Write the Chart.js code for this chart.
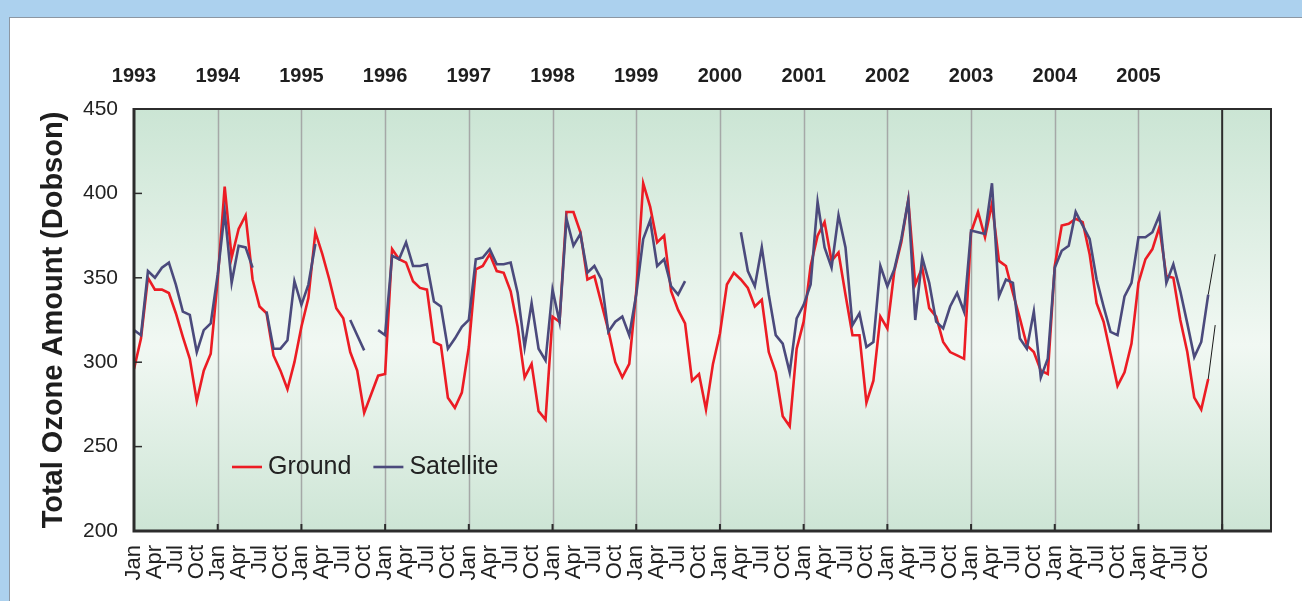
<!DOCTYPE html>
<html>
<head>
<meta charset="utf-8">
<script src="https://cdn.jsdelivr.net/npm/chart.js@4.4.1/dist/chart.umd.min.js"></script>
<style>
  html, body { margin: 0; padding: 0; width: 1302px; height: 601px; overflow: hidden; background: #acd1ee; }
  #panel { position: absolute; left: 9px; top: 17px; right: 0; bottom: 0; background: #ffffff;
           border-left: 1px solid #8c97a3; border-top: 1px solid #8c97a3; }
  #c { position: absolute; left: 0; top: 0; }
</style>
</head>
<body>
<div id="panel"></div>
<canvas id="c" width="1302" height="601"></canvas>
<script>
// Year labels along the top, one per January
const years = ['1993','1994','1995','1996','1997','1998','1999','2000','2001','2002','2003','2004','2005'];
// Quarterly month labels along the bottom
const monthTickLabels = ['Jan','Apr','Jul','Oct'];
const yTickValues = [200, 250, 300, 350, 400, 450];

// Monthly total ozone (Dobson units), Jan 1993 .. Dec 2005
const ground = [
  296, 314, 350, 343, 343, 341, 329, 315, 302, 277, 295, 305,   // 1993
  349, 404, 362, 379, 387, 349, 333, 329, 304, 295, 284, 300,   // 1994
  321, 338, 377, 364, 349, 332, 326, 306, 295, 270, 281, 292,   // 1995
  293, 367, 361, 359, 348, 344, 343, 312, 310, 279, 273, 282,   // 1996
  309, 355, 357, 364, 354, 353, 342, 321, 291, 299, 271, 266,   // 1997
  327, 324, 389, 389, 377, 349, 351, 335, 319, 300, 291, 299,   // 1998
  342, 406, 392, 371, 375, 342, 331, 323, 289, 293, 272, 299,   // 1999
  317, 346, 353, 349, 344, 333, 337, 306, 294, 268, 262, 308,   // 2000
  324, 357, 375, 383, 360, 365, 340, 316, 316, 276, 289, 327,   // 2001
  320, 354, 371, 396, 346, 356, 332, 327, 312, 306, 304, 302,   // 2002
  377, 389, 374, 394, 360, 357, 341, 326, 310, 306, 295, 293,   // 2003
  357, 381, 382, 385, 383, 364, 335, 324, 305, 286, 294, 311,   // 2004
  347, 361, 367, 380, 351, 350, 325, 306, 279, 272, 290, null   // 2005
];
const satellite = [
  319, 316, 354, 350, 356, 359, 346, 330, 328, 306, 319, 323,   // 1993
  352, 389, 347, 369, 368, 356, null, 330, 308, 308, 313, 348,  // 1994
  334, 346, 370, null, null, null, null, 325, 316, 307, null, 319, // 1995
  316, 363, 361, 371, 357, 357, 358, 336, 333, 308, 314, 321,   // 1996
  325, 361, 362, 367, 358, 358, 359, 341, 309, 335, 308, 301,   // 1997
  343, 324, 385, 369, 376, 353, 357, 349, 318, 324, 327, 316,   // 1998
  340, 373, 384, 357, 361, 345, 340, 348, null, null, null, null, // 1999
  null, null, null, 377, 354, 345, 368, 340, 316, 311, 294, 326, // 2000
  334, 346, 395, 368, 356, 387, 368, 322, 329, 309, 312, 357,   // 2001
  345, 355, 373, 396, 325, 362, 347, 324, 320, 333, 341, 330,   // 2002
  378, 377, 376, 406, 339, 349, 347, 314, 308, 330, 291, 302,   // 2003
  356, 366, 369, 389, 381, 373, 349, 333, 318, 316, 339, 347,   // 2004
  374, 374, 377, 387, 347, 358, 342, 323, 303, 312, 340, null   // 2005
];
// Thin provisional segments, Nov -> Dec 2005
const tailMonths = [154, 155];
const groundTail = [290, 322];
const satelliteTail = [340, 364];

const FONT = '"Liberation Sans", Arial, Helvetica, sans-serif';
const X_MAX = 163;                 // months shown on the axis (incl. blank 2006 panel)
const YEAR_END = years.length * 12; // 156

const toPoints = (arr, start = 0) => arr.map((v, i) => ({ x: start + i, y: v }));
const tailPoints = vals => vals.map((v, i) => ({ x: tailMonths[i], y: v }));

const quarterTicks = [];
for (let m = 0; m < YEAR_END; m += 3) quarterTicks.push(m);
const yearTicks = years.map((_, i) => i * 12);

// Soft vertical green gradient behind the plot
const plotBackground = {
  id: 'plotBackground',
  beforeDraw(chart) {
    const { ctx, chartArea: a } = chart;
    const g = ctx.createLinearGradient(0, a.top, 0, a.bottom);
    g.addColorStop(0, '#cbe5d4');
    g.addColorStop(0.56, '#f1f8f3');
    g.addColorStop(1, '#cde5d5');
    ctx.save();
    ctx.fillStyle = g;
    ctx.fillRect(a.left, a.top, a.right - a.left, a.bottom - a.top);
    ctx.restore();
  }
};

// Year separators under the data lines
const yearGrid = {
  id: 'yearGrid',
  beforeDatasetsDraw(chart) {
    const { ctx, chartArea: a, scales: { x } } = chart;
    ctx.save();
    ctx.strokeStyle = '#a5a8a7';
    ctx.lineWidth = 1.5;
    for (let m = 12; m < YEAR_END; m += 12) {
      const px = Math.round(x.getPixelForValue(m)) + 0.5;
      ctx.beginPath(); ctx.moveTo(px, a.top); ctx.lineTo(px, a.bottom); ctx.stroke();
    }
    ctx.restore();
  }
};

// Axis frame, panel divider and inward tick marks
const frame = {
  id: 'frame',
  afterDatasetsDraw(chart) {
    const { ctx, chartArea: a, scales: { x, y } } = chart;
    ctx.save();
    ctx.strokeStyle = '#2c2c2c';
    ctx.lineCap = 'butt';
    // divider before the blank panel
    const dx = x.getPixelForValue(YEAR_END);
    ctx.lineWidth = 2;
    ctx.beginPath(); ctx.moveTo(dx, a.top); ctx.lineTo(dx, a.bottom); ctx.stroke();
    // top and right edges
    ctx.beginPath(); ctx.moveTo(a.left, a.top); ctx.lineTo(a.right, a.top); ctx.lineTo(a.right, a.bottom); ctx.stroke();
    // left and bottom axes
    ctx.lineWidth = 3;
    ctx.beginPath(); ctx.moveTo(a.left, a.top - 1); ctx.lineTo(a.left, a.bottom); ctx.lineTo(a.right + 1, a.bottom); ctx.stroke();
    // y tick marks pointing inward
    ctx.lineWidth = 1.5;
    yTickValues.forEach(v => {
      if (v <= y.min || v >= y.max) return;
      const py = y.getPixelForValue(v);
      ctx.beginPath(); ctx.moveTo(a.left, py); ctx.lineTo(a.left + 8, py); ctx.stroke();
    });
    // year tick marks on the bottom axis
    ctx.lineWidth = 2;
    for (let m = 12; m <= YEAR_END; m += 12) {
      const px = x.getPixelForValue(m);
      ctx.beginPath(); ctx.moveTo(px, a.bottom); ctx.lineTo(px, a.bottom - 7); ctx.stroke();
    }
    ctx.restore();
  }
};

// Legend drawn inside the plot area
const innerLegend = {
  id: 'innerLegend',
  afterDraw(chart) {
    const { ctx, chartArea: a } = chart;
    const items = chart.data.datasets.filter(d => d.showInLegend);
    let px = a.left + 98;
    const py = a.bottom - 64;
    ctx.save();
    ctx.font = '25px ' + FONT;
    ctx.textBaseline = 'middle';
    ctx.fillStyle = '#222';
    items.forEach(d => {
      ctx.strokeStyle = d.borderColor;
      ctx.lineWidth = 2.6;
      ctx.beginPath(); ctx.moveTo(px, py); ctx.lineTo(px + 30, py); ctx.stroke();
      px += 36;
      ctx.fillText(d.label, px, py);
      px += ctx.measureText(d.label).width + 22;
    });
    ctx.restore();
  }
};

new Chart(document.getElementById('c'), {
  type: 'line',
  data: {
    datasets: [
      { label: 'Ground', data: toPoints(ground), borderColor: '#ec1c24', borderWidth: 2.6,
        pointRadius: 0, tension: 0, spanGaps: false, order: 1, showInLegend: true },
      { label: 'Satellite', data: toPoints(satellite), borderColor: '#4b4a7c', borderWidth: 2.6,
        pointRadius: 0, tension: 0, spanGaps: false, order: 0, showInLegend: true },
      { label: 'Ground (provisional)', data: tailPoints(groundTail), borderColor: '#1a1a1a', borderWidth: 1,
        pointRadius: 0, tension: 0, order: 2 },
      { label: 'Satellite (provisional)', data: tailPoints(satelliteTail), borderColor: '#1a1a1a', borderWidth: 1,
        pointRadius: 0, tension: 0, order: 2 }
    ]
  },
  options: {
    responsive: false,
    animation: false,
    devicePixelRatio: 1,
    layout: { padding: { left: 37, top: 40, right: 31, bottom: 0 } },
    plugins: { legend: { display: false }, tooltip: { enabled: false } },
    scales: {
      x: {
        type: 'linear', position: 'bottom', min: 0, max: X_MAX,
        afterBuildTicks: s => { s.ticks = quarterTicks.map(v => ({ value: v })); },
        afterFit: s => { s.height = 70; },
        grid: { display: false, drawTicks: false },
        border: { display: false },
        ticks: {
          autoSkip: false, maxRotation: 90, minRotation: 90, padding: 14,
          color: '#222', font: { family: FONT, size: 22 },
          callback: v => monthTickLabels[(v % 12) / 3]
        }
      },
      xYears: {
        type: 'linear', position: 'top', axis: 'x', min: 0, max: X_MAX,
        afterBuildTicks: s => { s.ticks = yearTicks.map(v => ({ value: v })); },
        afterFit: s => { s.height = 69; },
        grid: { display: false, drawTicks: false },
        border: { display: false },
        ticks: {
          autoSkip: false, maxRotation: 0, minRotation: 0, padding: 21,
          color: '#1e1e1e', font: { family: FONT, size: 20, weight: 'bold' },
          callback: v => years[v / 12]
        }
      },
      y: {
        type: 'linear', position: 'left', min: 200, max: 450,
        afterBuildTicks: s => { s.ticks = yTickValues.map(v => ({ value: v })); },
        afterFit: s => { s.width = 97; },
        grid: { display: false, drawTicks: false },
        border: { display: false },
        ticks: { padding: 16, color: '#222', font: { family: FONT, size: 21 } },
        title: {
          display: true, text: 'Total Ozone Amount (Dobson)', padding: 0,
          color: '#1e1e1e', font: { family: FONT, size: 29, weight: 'bold' }
        }
      }
    }
  },
  plugins: [plotBackground, yearGrid, frame, innerLegend]
});
</script>
</body>
</html>
